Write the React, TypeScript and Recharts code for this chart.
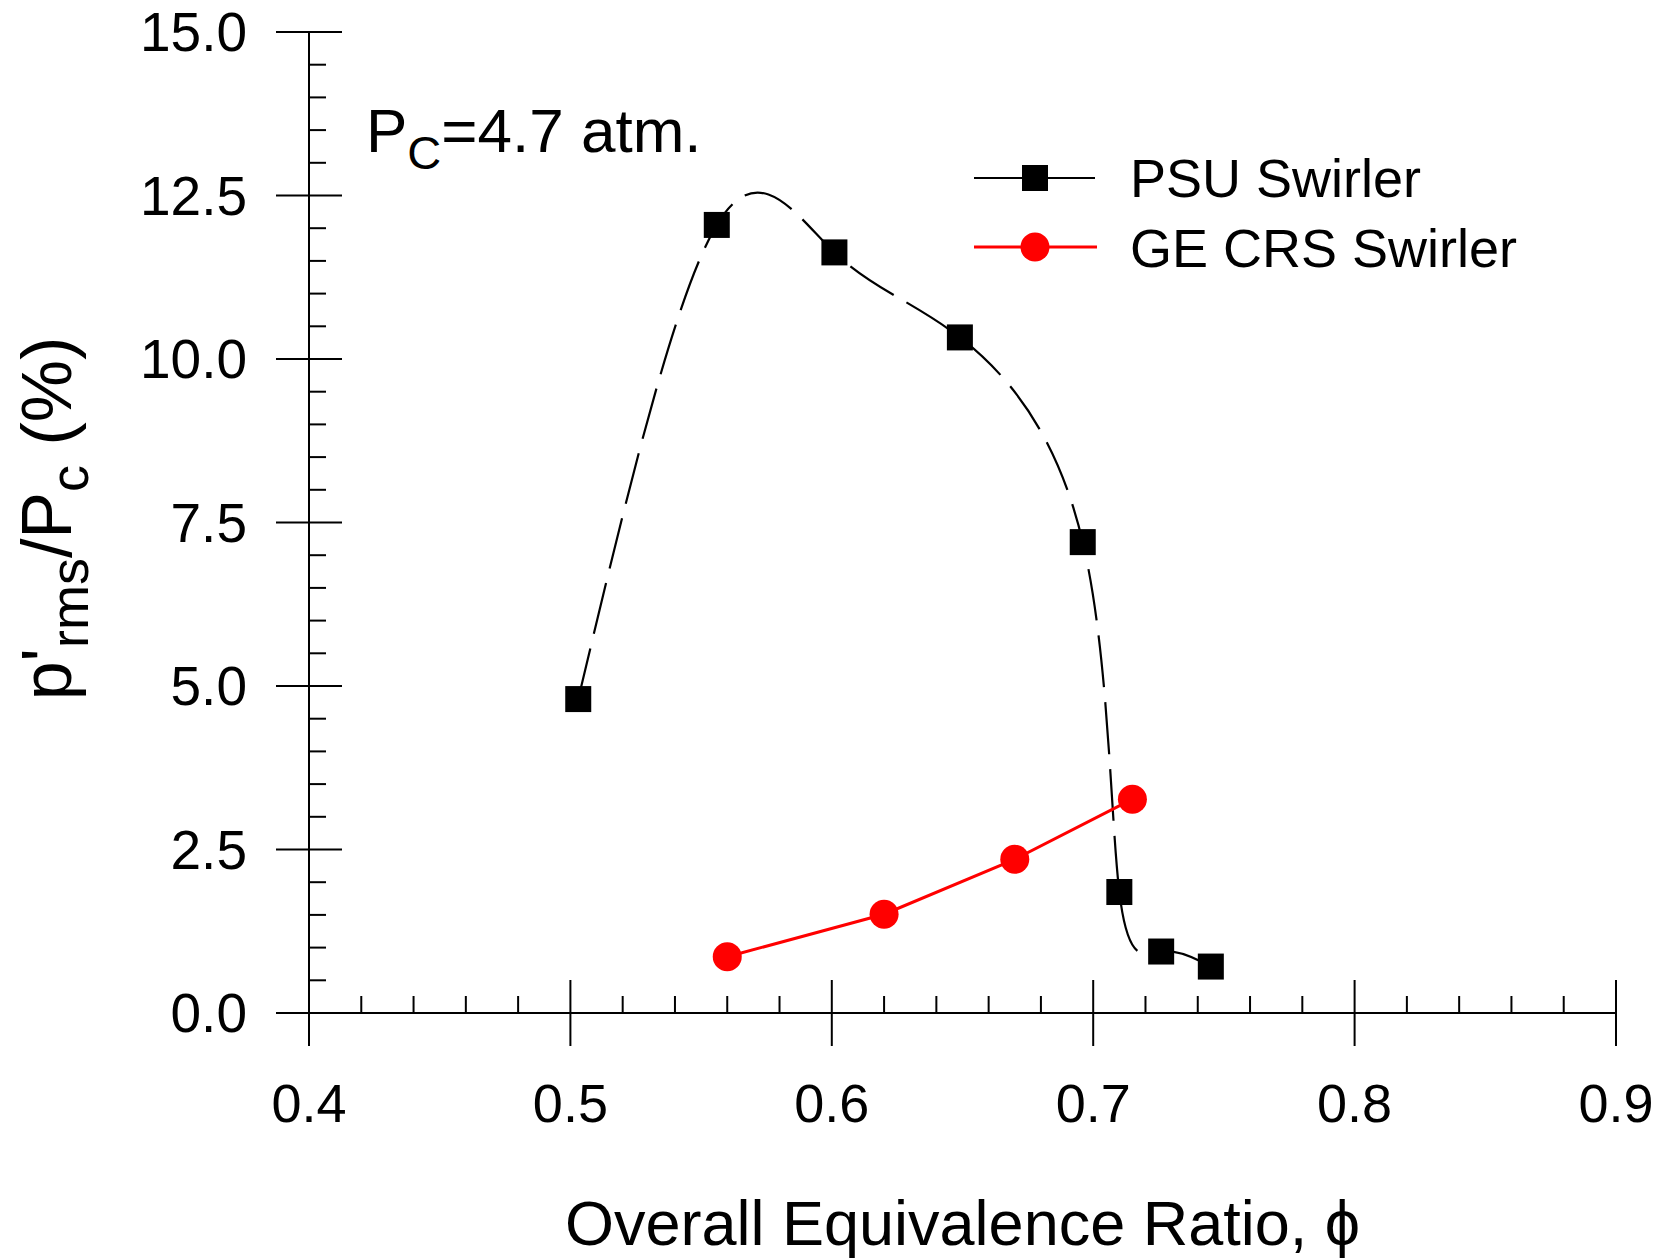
import React from "react";
import { LineChart, Line, XAxis, YAxis, Legend, Label } from "recharts";

// PSU swirler (black squares, dashed spline)
const psuPhi = [0.503, 0.556, 0.601, 0.649, 0.696, 0.71, 0.726, 0.745];
const psuPrms = [4.8, 12.05, 11.63, 10.33, 7.2, 1.85, 0.94, 0.71];
// GE CRS swirler (red circles)
const gePhi = [0.56, 0.62, 0.67, 0.715];
const gePrms = [0.86, 1.51, 2.35, 3.27];

const xMajorTicks = [0.4, 0.5, 0.6, 0.7, 0.8, 0.9];
const yMajorTicks = [0, 2.5, 5, 7.5, 10, 12.5, 15];
const xTicks = Array.from({ length: 26 }, (_, i) => +(0.4 + i * 0.02).toFixed(2));
const yTicks = Array.from({ length: 31 }, (_, i) => i * 0.5);

const psuData = psuPhi.map((x, i) => ({ x, y: psuPrms[i] }));
const geData = gePhi.map((x, i) => ({ x, y: gePrms[i] }));

const FONT = '"Liberation Sans", Arial, Helvetica, sans-serif';
const MAJOR = 33;
const MINOR = 17;
const TICK_W = 2;

function BottomTick({ x, y, payload }: any) {
  if (!xMajorTicks.includes(payload.value))
    return <line x1={x} x2={x} y1={y - MINOR} y2={y} stroke="#000" strokeWidth={TICK_W} />;
  return (
    <g>
      <line x1={x} x2={x} y1={y - MAJOR} y2={y + MAJOR} stroke="#000" strokeWidth={TICK_W} />
      <text x={x} y={y + 109} textAnchor="middle" fontSize={54} fontFamily={FONT} fill="#000">
        {payload.value.toFixed(1)}
      </text>
    </g>
  );
}

function TopTick({ x, y, payload }: any) {
  const len = xMajorTicks.includes(payload.value) ? MAJOR : MINOR;
  return <line x1={x} x2={x} y1={y} y2={y + len} stroke="#000" strokeWidth={TICK_W} />;
}

function LeftTick({ x, y, payload }: any) {
  if (!yMajorTicks.includes(payload.value))
    return <line x1={x} x2={x + MINOR} y1={y} y2={y} stroke="#000" strokeWidth={TICK_W} />;
  return (
    <g>
      <line x1={x - MAJOR} x2={x + MAJOR} y1={y} y2={y} stroke="#000" strokeWidth={TICK_W} />
      <text x={x - 62} y={y + 19} textAnchor="end" fontSize={55} fontFamily={FONT} fill="#000">
        {payload.value.toFixed(1)}
      </text>
    </g>
  );
}

function RightTick({ x, y, payload }: any) {
  const len = yMajorTicks.includes(payload.value) ? MAJOR : MINOR;
  return <line x1={x - len} x2={x} y1={y} y2={y} stroke="#000" strokeWidth={TICK_W} />;
}

const SquareDot = ({ cx, cy, index }: any) => (
  <rect key={`sq-${index}`} x={cx - 13} y={cy - 13} width={26} height={26} fill="#000" />
);
const CircleDot = ({ cx, cy, index }: any) => (
  <circle key={`ci-${index}`} cx={cx} cy={cy} r={14.5} fill="#ff0000" />
);

function XTitle({ viewBox }: any) {
  return (
    <text
      x={viewBox.x + viewBox.width / 2}
      y={viewBox.y + 232}
      textAnchor="middle"
      fontSize={63}
      fontFamily={FONT}
      fill="#000"
    >
      Overall Equivalence Ratio, ϕ
    </text>
  );
}

function YTitle({ viewBox }: any) {
  const cx = viewBox.x - 38;
  const cy = viewBox.y + viewBox.height / 2 - 4;
  return (
    <text
      x={cx}
      y={cy}
      transform={`rotate(-90, ${cx}, ${cy})`}
      textAnchor="middle"
      fontSize={70}
      fontFamily={FONT}
      fill="#000"
    >
      p'
      <tspan fontSize={54} dy={17}>rms</tspan>
      <tspan dy={-17}>/P</tspan>
      <tspan fontSize={54} dy={17}>c</tspan>
      <tspan dy={-17}> (%)</tspan>
    </text>
  );
}

function LegendBox() {
  return (
    <svg width={560} height={140} style={{ display: "block", overflow: "visible" }}>
      <line x1={0} x2={121} y1={38} y2={38} stroke="#000" strokeWidth={2.2} />
      <rect x={48} y={25} width={26} height={26} fill="#000" />
      <text x={156} y={57} fontSize={54} fontFamily={FONT} fill="#000">PSU Swirler</text>
      <line x1={0} x2={123} y1={107} y2={107} stroke="#ff0000" strokeWidth={3} />
      <circle cx={61} cy={107} r={14.5} fill="#ff0000" />
      <text x={156} y={127} fontSize={54} fontFamily={FONT} fill="#000">GE CRS Swirler</text>
    </svg>
  );
}

export default function App() {
  return (
    <div style={{ position: "absolute", left: 0, top: 0, width: 1663, height: 1258, background: "#fff" }}>
      <LineChart width={1663} height={1258} margin={{ top: 32, right: 47, bottom: 145, left: 109 }}>
        <XAxis
          dataKey="x"
          type="number"
          domain={[0.4, 0.9]}
          ticks={xTicks}
          interval={0}
          height={100}
          tickSize={0}
          tickMargin={0}
          tick={BottomTick}
          axisLine={{ stroke: "#000", strokeWidth: 2 }}
          allowDataOverflow
        >
          <Label content={XTitle} />
        </XAxis>
        <XAxis
          xAxisId="top"
          orientation="top"
          dataKey="x"
          type="number"
          domain={[0.4, 0.9]}
          ticks={xTicks}
          interval={0}
          height={0}
          tickSize={0}
          tickMargin={0}
          tick={TopTick}
          axisLine={{ stroke: "#000", strokeWidth: 2 }}
          allowDataOverflow
        />
        <YAxis
          type="number"
          domain={[0, 15]}
          ticks={yTicks}
          interval={0}
          width={200}
          tickSize={0}
          tickMargin={0}
          tick={LeftTick}
          axisLine={{ stroke: "#000", strokeWidth: 2 }}
          allowDataOverflow
        >
          <Label content={YTitle} />
        </YAxis>
        <YAxis
          yAxisId="right"
          orientation="right"
          type="number"
          domain={[0, 15]}
          ticks={yTicks}
          interval={0}
          width={0}
          tickSize={0}
          tickMargin={0}
          tick={RightTick}
          axisLine={{ stroke: "#000", strokeWidth: 2 }}
          allowDataOverflow
        />
        <Legend
          layout="vertical"
          align="center"
          verticalAlign="middle"
          wrapperStyle={{ left: 974, top: 140, width: 560, height: 140 }}
          content={() => <LegendBox />}
        />
        <Line
          data={psuData}
          dataKey="y"
          type="natural"
          stroke="#000"
          strokeWidth={2.2}
          strokeDasharray="52 15"
          dot={SquareDot}
          activeDot={false}
          isAnimationActive={false}
        />
        <Line
          data={geData}
          dataKey="y"
          type="linear"
          stroke="#ff0000"
          strokeWidth={3}
          dot={CircleDot}
          activeDot={false}
          isAnimationActive={false}
        />
      </LineChart>
      <svg
        width={1663}
        height={1258}
        style={{ position: "absolute", left: 0, top: 0, pointerEvents: "none" }}
      >
        <text x={366} y={152} fontSize={62} fontFamily={FONT} fill="#000">
          P
          <tspan fontSize={47} dy={17}>C</tspan>
          <tspan dy={-17}>=4.7 atm.</tspan>
        </text>
      </svg>
    </div>
  );
}
